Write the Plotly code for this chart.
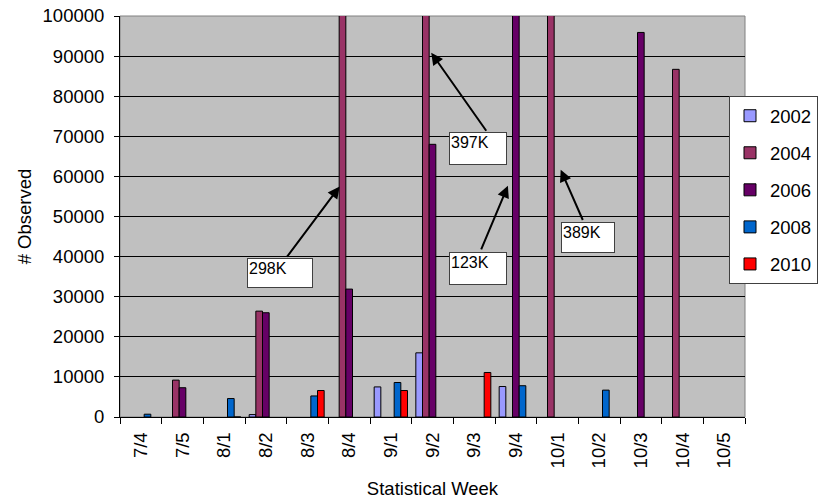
import plotly.graph_objects as go

weeks = ["7/4", "7/5", "8/1", "8/2", "8/3", "8/4", "9/1", "9/2", "9/3", "9/4",
         "10/1", "10/2", "10/3", "10/4", "10/5"]

y2002 = [None, None, None, 600, None, None, 7500, 16000, None, 7600, None, None, None, None, None]
y2004 = [None, 9200, None, 26400, None, 298000, None, 397000, None, None, 389000, None, None, 86700, None]
y2006 = [None, 7300, None, 26000, None, 31900, None, 68000, None, 123000, None, None, 95900, None, None]
y2008 = [700, None, 4600, None, 5250, None, 8600, None, None, 7800, None, 6700, None, None, None]
y2010 = [None, None, 0, None, 6600, None, 6600, None, 11100, None, None, None, None, None, None]

series = [
    ("2002", y2002, "#9999FF"),
    ("2004", y2004, "#993366"),
    ("2006", y2006, "#660066"),
    ("2008", y2008, "#0066CC"),
    ("2010", y2010, "#FF0000"),
]

# callout labels: text, box left (category index), box top (value), box w,h (px), arrow tail (idx, value), arrow head (idx, value)
callouts = [
    ("298K", 2.546, 39600, 62, 26, 3.483, 39600, 4.772, 57500),
    ("397K", 7.392, 71000, 54, 29, 8.315, 71000, 6.969, 90850),
    ("123K", 7.392, 41100, 54, 29, 8.154, 41425, 8.810, 57675),
    ("389K", 10.077, 48750, 50, 27, 10.623, 48750, 10.077, 61675),
]

FONT = "Arial, Liberation Sans, sans-serif"

fig = go.Figure()
for i, (name, vals, col) in enumerate(series):
    fig.add_trace(go.Bar(
        x=weeks, y=vals, name=name, legendgroup=name,
        marker=dict(color=col, line=dict(color="#000000", width=1)),
    ))

annotations = []
for text, bx, by, bw, bh, tx, ty, hx, hy in callouts:
    annotations.append(dict(
        x=hx, y=hy, xref="x", yref="y", ax=tx, ay=ty, axref="x", ayref="y",
        text="", showarrow=True, arrowhead=2, arrowsize=1.2, arrowwidth=2,
        arrowcolor="#000000", standoff=0, startstandoff=0,
    ))
    annotations.append(dict(
        x=bx, y=by, xref="x", yref="y", xanchor="left", yanchor="top",
        text=text, showarrow=False, align="left", valign="top",
        width=bw, height=bh, bgcolor="#FFFFFF", bordercolor="#404040",
        borderwidth=1, borderpad=1,
        font=dict(family=FONT, size=16, color="#000000"),
    ))

fig.update_layout(
    width=821, height=504,
    margin=dict(l=120, r=76, t=16, b=87, autoexpand=False),
    paper_bgcolor="#FFFFFF", plot_bgcolor="#C0C0C0",
    barmode="group", bargap=0.2, bargroupgap=0,
    font=dict(family=FONT, size=18.5, color="#000000"),
    showlegend=True,
    legend=dict(
        x=0.9744, y=0.80, xanchor="left", yanchor="top",
        bgcolor="#FFFFFF", bordercolor="#404040", borderwidth=1,
        font=dict(family=FONT, size=18.5), tracegroupgap=10,
        itemwidth=30,
    ),
    annotations=annotations,
    shapes=[dict(type="rect", xref="paper", yref="paper", x0=0, x1=1, y0=0, y1=1,
                 line=dict(color="#808080", width=1), layer="below")],
)

fig.update_xaxes(
    type="category", tickangle=-90, ticks="outside", ticklen=6, tickson="boundaries",
    tickcolor="#000000", showline=True, linecolor="#000000", linewidth=1,
    showgrid=False, ticklabelstandoff=7,
    title=dict(text="Statistical Week", standoff=14, font=dict(size=18.5)),
)
fig.update_yaxes(
    range=[0, 100000], dtick=10000, tickformat="d", ticks="outside", ticklen=5,
    tickcolor="#000000", showline=True, linecolor="#000000", linewidth=1,
    showgrid=True, gridcolor="#000000", gridwidth=1, zeroline=False,
    ticklabelstandoff=6,
    title=dict(text="# Observed", standoff=6, font=dict(size=18.5)),
)

fig.write_html("out.html", config={"displayModeBar": False},
               post_script="document.body.style.margin='0';document.body.style.padding='0';")
